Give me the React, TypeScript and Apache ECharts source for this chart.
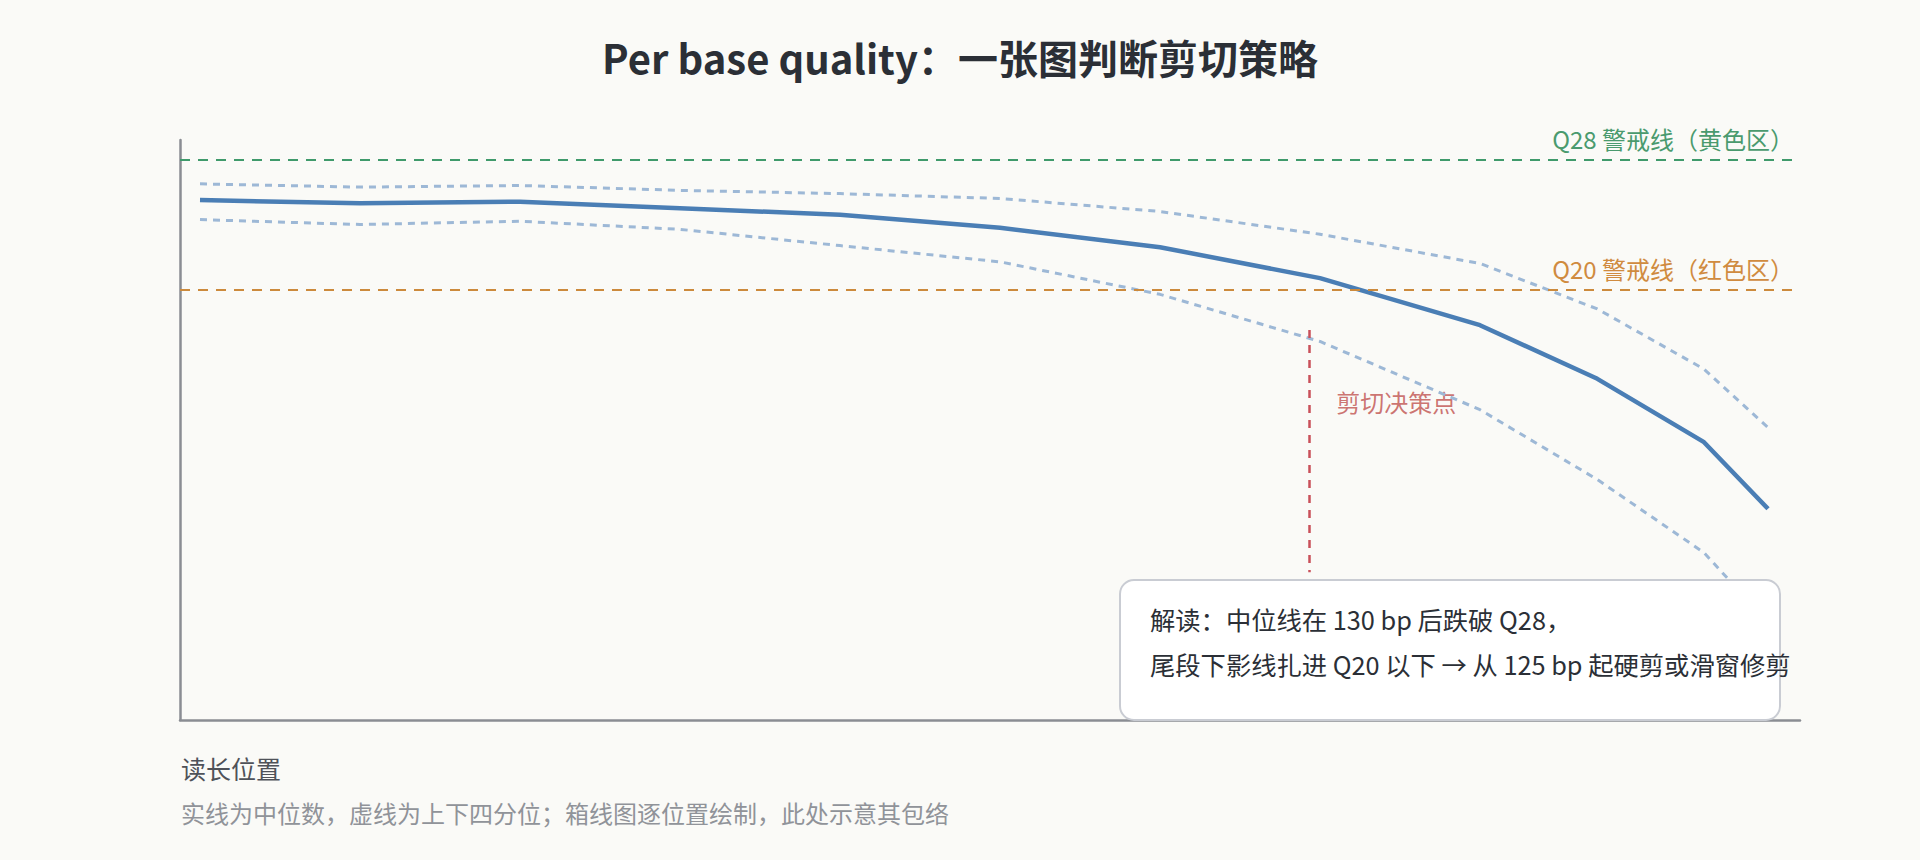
// Per base quality 示意图：中位线 + 上下四分位包络，Q28/Q20 警戒线与剪切决策点
import * as React from "react";
import * as echarts from "echarts";

const FONT = "'Noto Sans CJK SC', 'Noto Sans', sans-serif";

// 读长位置 (bp)
const POS = [1, 16, 31, 46, 61, 76, 91, 106, 121, 132, 142, 148];
// 中位数
const MEDIAN = [25.5, 25.3, 25.4, 25.0, 24.6, 23.8, 22.6, 20.7, 17.8, 14.5, 10.6, 6.5];
// 上四分位
const UPPER_Q = [26.5, 26.3, 26.4, 26.1, 25.9, 25.6, 24.8, 23.4, 21.6, 18.8, 15.1, 11.5];
// 下四分位
const LOWER_Q = [24.3, 24.0, 24.2, 23.7, 22.7, 21.7, 19.7, 16.8, 12.6, 8.3, 3.8, -0.5];

const THRESHOLDS = [
  { value: 28, label: "Q28 警戒线（黄色区）", color: "#3f9a6b", text: "#4a9a6e" },
  { value: 20, label: "Q20 警戒线（红色区）", color: "#cc8a3c", text: "#d08b3f" },
];

// 剪切决策点：位置与竖线上下端
const CUT_POS = 105;
const CUT_TOP = 17.5;
const CUT_BOTTOM = 2.6;
const CUT_LABEL_Y = 13.1;

const TITLE = "Per base quality：一张图判断剪切策略";
const X_NAME = "读长位置";
const NOTE = "实线为中位数，虚线为上下四分位；箱线图逐位置绘制，此处示意其包络";
const READING = [
  "解读：中位线在 130 bp 后跌破 Q28，",
  "尾段下影线扎进 Q20 以下 → 从 125 bp 起硬剪或滑窗修剪",
];

export default function App() {
  const ref = React.useRef<HTMLDivElement | null>(null);

  React.useEffect(() => {
    if (!ref.current) return;
    const chart = echarts.init(ref.current, undefined, { renderer: "svg" });
    const pts = (ys: number[]) => POS.map((x, i) => [x, ys[i]]);
    const quartile = {
      type: "line",
      symbol: "none",
      lineStyle: { color: "#9db8d6", width: 3, type: [7, 6] },
      z: 3,
    };
    const axisBase = {
      type: "value",
      axisLine: { show: true, onZero: false, lineStyle: { color: "#8a8d93", width: 2.5 } },
      axisTick: { show: false },
      axisLabel: { show: false },
      splitLine: { show: false },
    };

    chart.setOption({
      animation: false,
      backgroundColor: "#fafaf7",
      textStyle: { fontFamily: FONT },
      title: {
        text: TITLE,
        left: "center",
        top: 32,
        textStyle: { fontSize: 40, fontWeight: "bold", color: "#2b2f36", fontFamily: FONT },
      },
      grid: { left: 180, right: 120, top: 140, bottom: 140 },
      xAxis: { ...axisBase, min: -0.875, max: 151 },
      yAxis: { ...axisBase, min: -6.5, max: 29.2 },
      series: [
        { ...quartile, name: "上四分位", data: pts(UPPER_Q) },
        { ...quartile, name: "下四分位", data: pts(LOWER_Q) },
        {
          type: "line",
          name: "中位数",
          data: pts(MEDIAN),
          symbol: "none",
          lineStyle: { color: "#4a7eb5", width: 4.5 },
          z: 4,
          markLine: {
            silent: true,
            symbol: ["none", "none"],
            data: [
              ...THRESHOLDS.map((t) => ({
                yAxis: t.value,
                lineStyle: { color: t.color, width: 2, type: [10, 8] },
                label: {
                  show: true,
                  position: "insideEndTop",
                  formatter: t.label,
                  color: t.text,
                  fontSize: 24,
                  fontFamily: FONT,
                  distance: [6, 9],
                },
              })),
              [
                {
                  coord: [CUT_POS, CUT_TOP],
                  lineStyle: { color: "#c9505a", width: 2.5, type: [8, 7] },
                  label: { show: false },
                },
                { coord: [CUT_POS, CUT_BOTTOM] },
              ],
            ],
          },
        },
        {
          type: "scatter",
          name: "剪切决策点",
          data: [[CUT_POS, CUT_LABEL_Y]],
          symbolSize: 0,
          silent: true,
          label: {
            show: true,
            position: "right",
            distance: 27,
            formatter: "剪切决策点",
            color: "#c0504d",
            fontSize: 24,
            fontFamily: FONT,
          },
        },
      ],
      graphic: [
        {
          type: "rect",
          z: 100,
          shape: { x: 1120, y: 580, width: 660, height: 140, r: 14 },
          style: { fill: "#ffffff", stroke: "#c9ccd3", lineWidth: 2 },
        },
        ...READING.map((t, i) => ({
          type: "text",
          z: 101,
          x: 1150,
          y: 619 + i * 45,
          style: { text: t, fill: "#2b2f36", fontSize: 25.3, fontFamily: FONT, verticalAlign: "middle" },
        })),
        {
          type: "text",
          x: 181,
          y: 768,
          style: { text: X_NAME, fill: "#4f5259", fontSize: 25, fontFamily: FONT, verticalAlign: "middle" },
        },
        {
          type: "text",
          x: 181,
          y: 812,
          style: { text: NOTE, fill: "#909399", fontSize: 24, fontFamily: FONT, verticalAlign: "middle" },
        },
      ],
    });

    return () => chart.dispose();
  }, []);

  return (
    <div
      ref={ref}
      style={{ position: "fixed", left: 0, top: 0, width: 1920, height: 860, background: "#fafaf7" }}
    />
  );
}
